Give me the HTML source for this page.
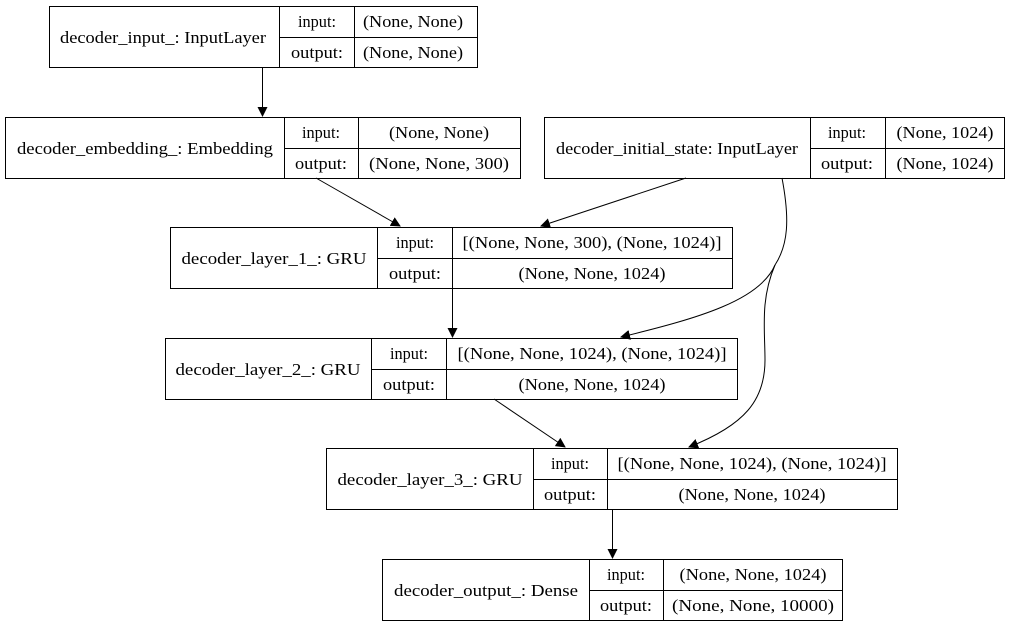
<!DOCTYPE html>
<html><head><meta charset="utf-8"><style>
html,body{margin:0;padding:0;background:#fff;}
svg{display:block;}
text{font-family:"Liberation Serif",serif;font-size:17px;fill:#000;}
</style></head><body>
<svg width="1010" height="627" viewBox="0 0 1010 627" xmlns="http://www.w3.org/2000/svg">
<defs><marker id="a" markerWidth="10" markerHeight="10" refX="9" refY="5" orient="auto" markerUnits="userSpaceOnUse"><path d="M0,0 L10,5 L0,10 z" fill="#000"/></marker></defs>
<g fill="none" stroke="#000" stroke-width="1">
<rect x="49.5" y="6.5" width="428" height="61"/><line x1="279.5" y1="6" x2="279.5" y2="67"/><line x1="354.5" y1="6" x2="354.5" y2="67"/><line x1="279" y1="37.5" x2="477" y2="37.5"/>
<rect x="5.5" y="117.5" width="515" height="61"/><line x1="284.5" y1="117" x2="284.5" y2="178"/><line x1="358.5" y1="117" x2="358.5" y2="178"/><line x1="284" y1="148.5" x2="520" y2="148.5"/>
<rect x="544.5" y="117.5" width="460" height="61"/><line x1="810.5" y1="117" x2="810.5" y2="178"/><line x1="885.5" y1="117" x2="885.5" y2="178"/><line x1="810" y1="148.5" x2="1004" y2="148.5"/>
<rect x="170.5" y="227.5" width="562" height="61"/><line x1="377.5" y1="227" x2="377.5" y2="288"/><line x1="452.5" y1="227" x2="452.5" y2="288"/><line x1="377" y1="258.5" x2="732" y2="258.5"/>
<rect x="165.5" y="338.5" width="572" height="61"/><line x1="371.5" y1="338" x2="371.5" y2="399"/><line x1="446.5" y1="338" x2="446.5" y2="399"/><line x1="371" y1="369.5" x2="737" y2="369.5"/>
<rect x="326.5" y="448.5" width="571" height="61"/><line x1="533.5" y1="448" x2="533.5" y2="509"/><line x1="607.5" y1="448" x2="607.5" y2="509"/><line x1="533" y1="479.5" x2="897" y2="479.5"/>
<rect x="382.5" y="559.5" width="460" height="61"/><line x1="589.5" y1="559" x2="589.5" y2="620"/><line x1="663.5" y1="559" x2="663.5" y2="620"/><line x1="589" y1="590.5" x2="842" y2="590.5"/>
<line x1="262.5" y1="67" x2="262.5" y2="116" marker-end="url(#a)"/>
<line x1="316" y1="178" x2="400" y2="226" marker-end="url(#a)"/>
<line x1="686" y1="178" x2="541" y2="226" marker-end="url(#a)"/>
<line x1="452.5" y1="288" x2="452.5" y2="337" marker-end="url(#a)"/>
<path d="M782,178 C790,220 788,245 775,265 C760,300 700,318 621,337" marker-end="url(#a)"/>
<path d="M775,265 C760,300 765,330 765,360 C765,400 745,425 689,447" marker-end="url(#a)"/>
<line x1="494" y1="399" x2="565" y2="447" marker-end="url(#a)"/>
<line x1="612.5" y1="509" x2="612.5" y2="558" marker-end="url(#a)"/>
</g>
<g text-anchor="middle" lengthAdjust="spacingAndGlyphs">
<text x="163" y="43" textLength="206" lengthAdjust="spacingAndGlyphs">decoder_input_: InputLayer</text>
<text x="317" y="27" textLength="38" lengthAdjust="spacingAndGlyphs">input:</text><text x="317" y="58" textLength="52" lengthAdjust="spacingAndGlyphs">output:</text>
<text x="413" y="27" textLength="100" lengthAdjust="spacingAndGlyphs">(None, None)</text><text x="413" y="58" textLength="100" lengthAdjust="spacingAndGlyphs">(None, None)</text>

<text x="145" y="154" textLength="256" lengthAdjust="spacingAndGlyphs">decoder_embedding_: Embedding</text>
<text x="321" y="138" textLength="38" lengthAdjust="spacingAndGlyphs">input:</text><text x="321" y="169" textLength="52" lengthAdjust="spacingAndGlyphs">output:</text>
<text x="439" y="138" textLength="100" lengthAdjust="spacingAndGlyphs">(None, None)</text><text x="439" y="169" textLength="140" lengthAdjust="spacingAndGlyphs">(None, None, 300)</text>

<text x="677" y="154" textLength="242" lengthAdjust="spacingAndGlyphs">decoder_initial_state: InputLayer</text>
<text x="847" y="138" textLength="38" lengthAdjust="spacingAndGlyphs">input:</text><text x="847" y="169" textLength="52" lengthAdjust="spacingAndGlyphs">output:</text>
<text x="945" y="138" textLength="97" lengthAdjust="spacingAndGlyphs">(None, 1024)</text><text x="945" y="169" textLength="97" lengthAdjust="spacingAndGlyphs">(None, 1024)</text>

<text x="274" y="264" textLength="185" lengthAdjust="spacingAndGlyphs">decoder_layer_1_: GRU</text>
<text x="415" y="248" textLength="38" lengthAdjust="spacingAndGlyphs">input:</text><text x="415" y="279" textLength="52" lengthAdjust="spacingAndGlyphs">output:</text>
<text x="592" y="248" textLength="259" lengthAdjust="spacingAndGlyphs">[(None, None, 300), (None, 1024)]</text><text x="592" y="279" textLength="147" lengthAdjust="spacingAndGlyphs">(None, None, 1024)</text>

<text x="268" y="375" textLength="185" lengthAdjust="spacingAndGlyphs">decoder_layer_2_: GRU</text>
<text x="409" y="359" textLength="38" lengthAdjust="spacingAndGlyphs">input:</text><text x="409" y="390" textLength="52" lengthAdjust="spacingAndGlyphs">output:</text>
<text x="592" y="359" textLength="269" lengthAdjust="spacingAndGlyphs">[(None, None, 1024), (None, 1024)]</text><text x="592" y="390" textLength="147" lengthAdjust="spacingAndGlyphs">(None, None, 1024)</text>

<text x="430" y="485" textLength="185" lengthAdjust="spacingAndGlyphs">decoder_layer_3_: GRU</text>
<text x="570" y="469" textLength="38" lengthAdjust="spacingAndGlyphs">input:</text><text x="570" y="500" textLength="52" lengthAdjust="spacingAndGlyphs">output:</text>
<text x="752" y="469" textLength="269" lengthAdjust="spacingAndGlyphs">[(None, None, 1024), (None, 1024)]</text><text x="752" y="500" textLength="147" lengthAdjust="spacingAndGlyphs">(None, None, 1024)</text>

<text x="486" y="596" textLength="184" lengthAdjust="spacingAndGlyphs">decoder_output_: Dense</text>
<text x="626" y="580" textLength="38" lengthAdjust="spacingAndGlyphs">input:</text><text x="626" y="611" textLength="52" lengthAdjust="spacingAndGlyphs">output:</text>
<text x="753" y="580" textLength="147" lengthAdjust="spacingAndGlyphs">(None, None, 1024)</text><text x="753" y="611" textLength="162" lengthAdjust="spacingAndGlyphs">(None, None, 10000)</text>
</g>
</svg>
</body></html>
